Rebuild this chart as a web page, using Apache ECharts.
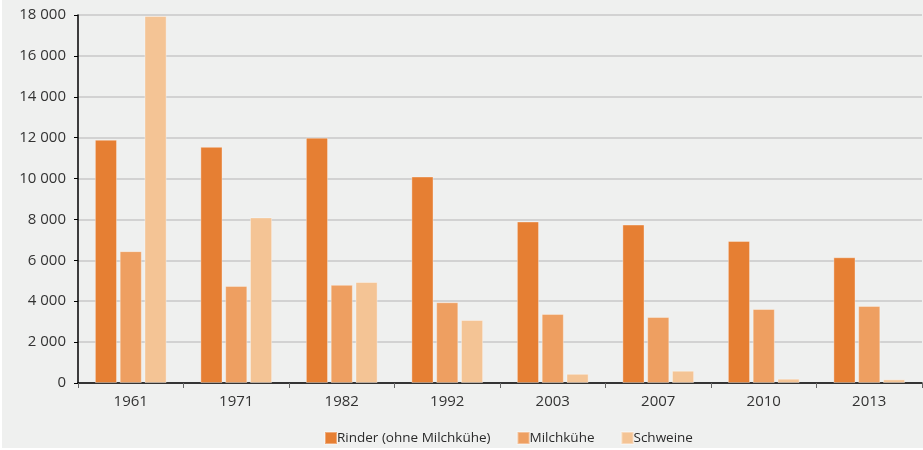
<!DOCTYPE html>
<html>
<head>
<meta charset="utf-8">
<script src="https://cdn.jsdelivr.net/npm/echarts@6/dist/echarts.min.js"></script>
<style>
  html, body { margin: 0; padding: 0; background: #fff; }
  #chart { position: absolute; left: 2px; top: 0; width: 921px; height: 448px; }
</style>
</head>
<body>
<div id="chart"></div>
<script>
const years = ['1961', '1971', '1982', '1992', '2003', '2007', '2010', '2013'];
const rinder = [11900, 11550, 12000, 10100, 7900, 7750, 6950, 6150];
const milchkuehe = [6450, 4750, 4800, 3950, 3380, 3230, 3620, 3770];
const schweine = [17950, 8100, 4940, 3080, 450, 600, 210, 180];
const seriesNames = ['Rinder (ohne Milchkühe)', 'Milchkühe', 'Schweine'];
const colors = ['#e67f33', '#ee9f61', '#f4c495'];

const chart = echarts.init(document.getElementById('chart'));
const font = '"Open Sans", "Noto Sans", sans-serif';

const fmt = v => {
  if (v === 0) return '0';
  const s = String(v);
  return s.slice(0, s.length - 3) + ' ' + s.slice(-3);
};

const values = [rinder, milchkuehe, schweine];
const series = seriesNames.map((name, i) => ({
  name,
  type: 'bar',
  data: values[i],
  barGap: '12%',
  barCategoryGap: '32%',
  itemStyle: { color: colors[i], borderColor: 'rgba(255,255,255,0.35)', borderWidth: 1 },
}));

chart.setOption({
  backgroundColor: '#eff0ef',
  animation: false,
  textStyle: { fontFamily: font },
  grid: { left: 76, right: 1, top: 15, bottom: 65 },
  legend: {
    bottom: -2,
    left: 317,
    icon: 'rect',
    itemWidth: 12,
    itemHeight: 12,
    itemGap: 26,
    textStyle: { fontSize: 13.5, color: '#2a2a2a', fontFamily: font, padding: [0, 0, 0, -5] },
    data: seriesNames,
  },
  xAxis: {
    type: 'category',
    data: years,
    axisLine: { lineStyle: { color: '#000', width: 1.5 } },
    axisTick: { show: true, length: 5, lineStyle: { color: '#666' } },
    axisLabel: { color: '#333', fontSize: 15, margin: 11, fontFamily: font },
  },
  yAxis: {
    type: 'value',
    min: 0,
    max: 18000,
    interval: 2000,
    axisLine: { show: true, lineStyle: { color: '#000', width: 1.5 } },
    axisTick: { show: true, length: 4, lineStyle: { color: '#000' } },
    splitLine: { lineStyle: { color: '#c8c8c8', width: 1.5 } },
    axisLabel: { color: '#333', fontSize: 15, margin: 12, fontFamily: font, formatter: fmt },
  },
  series,
});
</script>
</body>
</html>
